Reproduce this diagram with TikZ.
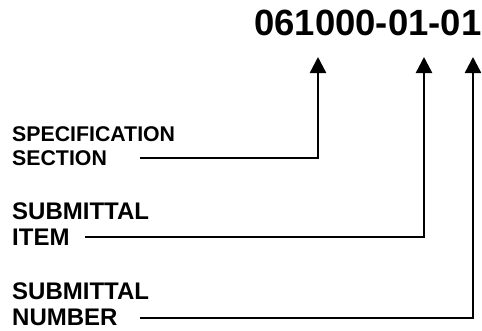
\documentclass[tikz,border=0pt]{standalone}
\usepackage{fontspec}
\setmainfont{Liberation Sans}
\usetikzlibrary{arrows.meta}

\tikzset{
  codetext/.style={font=\fontsize{36.5}{40}\selectfont\bfseries, inner sep=0pt},
  fieldtext/.style={font=\fontsize{24}{26}\selectfont\bfseries, align=left, inner sep=0pt, anchor=north west},
  smallfield/.style={fieldtext, font=\fontsize{21.3}{24}\selectfont\bfseries},
  pointer/.style={line width=2.4pt, -{Triangle[length=16pt, width=16pt]}}
}

\begin{document}
\begin{tikzpicture}[x=1pt, y=-1pt]
\useasboundingbox (0,0) rectangle (482,330);
% the number
\node[codetext, anchor=base west] (code) at (254,35) {061000-01-01};
% field names
\node[smallfield] (spec) at (12,126) {SPECIFICATION\\SECTION};
\node[fieldtext] (item) at (12,203) {SUBMITTAL\\ITEM};
\node[fieldtext] (num) at (12,283) {SUBMITTAL\\NUMBER};
% where the leaders start and end
\coordinate (spec-from) at (140,158);
\coordinate (item-from) at (85,237);
\coordinate (num-from) at (140,318);
\coordinate (spec-to) at (318,57);
\coordinate (item-to) at (424,57);
\coordinate (num-to) at (473,57);
% leaders
\draw[pointer] (spec-from) -| (spec-to);
\draw[pointer] (item-from) -| (item-to);
\draw[pointer] (num-from) -| (num-to);
\end{tikzpicture}
\end{document}
